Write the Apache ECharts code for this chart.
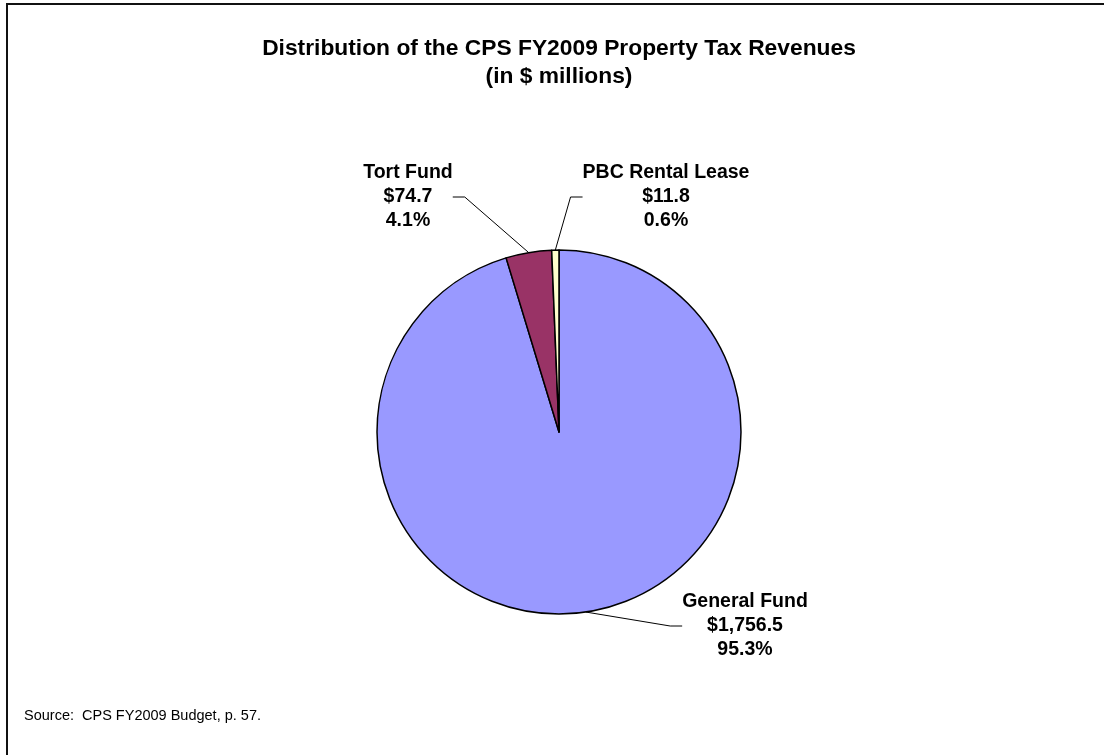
<!DOCTYPE html>
<html>
<head>
<meta charset="utf-8">
<script src="https://cdn.jsdelivr.net/npm/echarts@6/dist/echarts.min.js"></script>
<style>
  html, body { margin: 0; padding: 0; background: #fff; }
  #main { width: 1104px; height: 755px; }
</style>
</head>
<body>
<div id="main"></div>
<script>
// data ($ millions)
const funds = ["General Fund", "Tort Fund", "PBC Rental Lease"];
const revenues = [1756.5, 74.7, 11.8];
const sliceColors = ["#9999FF", "#993366", "#FFFFCC"];
const sourceNote = "Source:  CPS FY2009 Budget, p. 57.";

// where each label block sits (center of block)
const labelSpots = [[745, 626], [408, 197], [666, 197]];

var chartDom = document.getElementById("main");
var myChart = echarts.init(chartDom);

const option = {
  animation: false,
  title: {
    text: "Distribution of the CPS FY2009 Property Tax Revenues\n(in $ millions)",
    left: 554,
    textAlign: "center",
    top: 30,
    textStyle: {
      fontFamily: "Liberation Sans",
      fontSize: 22.8,
      fontWeight: "bold",
      lineHeight: 28,
      color: "#000",
    },
  },
  graphic: [
    {
      type: "rect",
      shape: { x: 7, y: 4, width: 1200, height: 900 },
      style: { fill: "none", stroke: "#111", lineWidth: 2 },
    },
    {
      type: "text",
      left: 24,
      top: 708,
      style: {
        text: sourceNote,
        fontFamily: "Liberation Sans",
        fontSize: 14.5,
        fill: "#000",
      },
    },
  ],
  series: [
    {
      type: "pie",
      center: [559, 432],
      radius: 182,
      startAngle: 90,
      clockwise: true,
      percentPrecision: 1,
      avoidLabelOverlap: false,
      itemStyle: { borderColor: "#000", borderWidth: 1.5 },
      label: {
        show: true,
        position: "outside",
        fontFamily: "Liberation Sans",
        fontSize: 19.5,
        fontWeight: "bold",
        lineHeight: 24,
        color: "#000",
        align: "center",
        formatter: function (p) {
          var v = p.value.toLocaleString("en-US", { minimumFractionDigits: 1, maximumFractionDigits: 1 });
          return p.name + "\n$" + v + "\n" + p.percent.toFixed(1) + "%";
        },
      },
      labelLine: {
        show: true,
        length: 20,
        length2: 12,
        lineStyle: { color: "#000", width: 1 },
      },
      labelLayout: function (params) {
        var s = labelSpots[params.dataIndex];
        return { x: s[0], y: s[1], align: "center", verticalAlign: "middle" };
      },
      data: funds.map((f, i) => ({
        name: f,
        value: revenues[i],
        itemStyle: { color: sliceColors[i] },
      })),
    },
  ],
};

option && myChart.setOption(option);
</script>
</body>
</html>
